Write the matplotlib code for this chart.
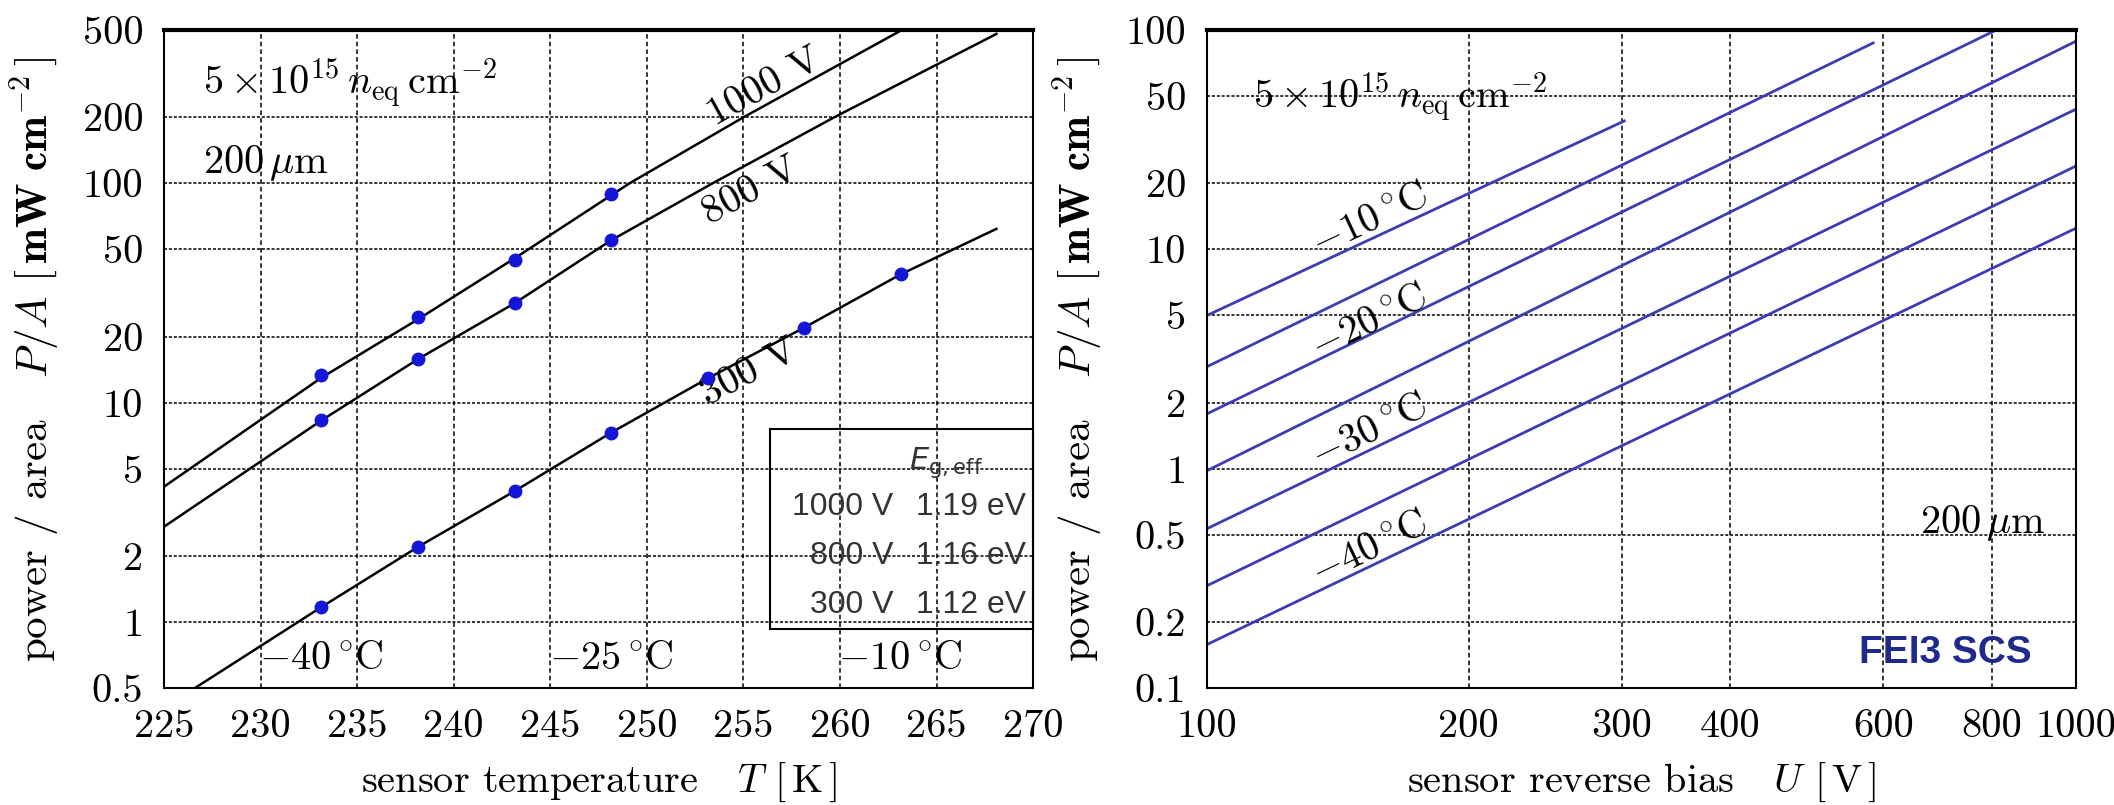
import matplotlib
matplotlib.use("Agg")
import matplotlib.pyplot as plt
import numpy as np
from matplotlib.patches import Rectangle
from matplotlib.ticker import NullLocator

plt.rcParams["font.family"] = "serif"
plt.rcParams["font.serif"] = ["cmr10"]
plt.rcParams["mathtext.fontset"] = "cm"
plt.rcParams["axes.formatter.use_mathtext"] = True

# ---- left panel: power density vs sensor temperature ----
temp_ticks = [225, 230, 235, 240, 245, 250, 255, 260, 265, 270]
pa_ticks_left = [0.5, 1, 2, 5, 10, 20, 50, 100, 200, 500]
pa_labels_left = ["0.5", "1", "2", "5", "10", "20", "50", "100", "200", "500"]

bias_names = ["1000 V", "800 V", "300 V"]
# fit curves at several temperatures
fit_T_1000 = [225.0, 233.15, 238.15, 243.15, 249.1, 255.0, 263.2]
fit_P_1000 = [4.14, 13.0, 24.0, 45.5, 100.0, 200.0, 500.0]
fit_T_800 = [225.0, 233.15, 238.15, 243.15, 248.15, 253.4, 259.7, 268.1]
fit_P_800 = [2.72, 8.3, 15.8, 28.4, 55.0, 100.0, 200.0, 480.0]
fit_T_300 = [226.6, 233.15, 238.15, 243.15, 248.15, 253.15, 258.15, 263.15, 268.1]
fit_P_300 = [0.5, 1.17, 2.2, 3.95, 7.3, 12.9, 22.0, 38.5, 62.0]
fit_label_T = [256.1, 255.4, 255.3]
fit_label_P = [275.0, 92.0, 13.6]

meas_T_1000 = [233.15, 238.15, 243.15, 248.15]
meas_P_1000 = [13.4, 24.5, 44.5, 89.0]
meas_T_800 = [233.15, 238.15, 243.15, 248.15]
meas_P_800 = [8.3, 15.8, 28.4, 55.0]
meas_T_300 = [233.15, 238.15, 243.15, 248.15, 253.15, 258.15, 263.15]
meas_P_300 = [1.17, 2.2, 3.95, 7.3, 12.9, 22.0, 38.5]

celsius_marks = [-40, -25, -10]
eg_bias = ["1000 V", "800 V", "300 V"]
eg_values = ["1.19 eV", "1.16 eV", "1.12 eV"]

# ---- right panel: power density vs reverse bias ----
bias_ticks = [100, 200, 300, 400, 600, 800, 1000]
bias_labels = ["100", "200", "300", "400", "600", "800", "1000"]
pa_ticks_right = [0.1, 0.2, 0.5, 1, 2, 5, 10, 20, 50, 100]
pa_labels_right = ["0.1", "0.2", "0.5", "1", "2", "5", "10", "20", "50", "100"]

curve_temps = [-10, -15, -20, -25, -30, -35, -40]
curve_U = [[100, 302], [100, 584], [100, 809], [100, 1000], [100, 1000], [100, 1000], [100, 1000]]
curve_P = [[5.0, 38.5], [2.92, 87.3], [1.78, 100.0], [0.98, 89.0], [0.533, 43.6], [0.293, 24.0], [0.158, 12.5]]
labelled_temps = [-10, -20, -30, -40]
label_U = [154, 154, 154, 154]
label_P = [13.5, 4.6, 1.46, 0.43]

FS = 29
BLUE_DOT = "#1515d8"
BLUE_LINE = "#3c3cb4"


def line_angle(ax, xs, ys, x_at):
    # local slope of the polyline around x_at, in screen degrees
    i = int(np.clip(np.searchsorted(xs, x_at), 1, len(xs) - 1))
    p = ax.transData.transform([(xs[i - 1], ys[i - 1]), (xs[i], ys[i])])
    return np.degrees(np.arctan2(p[1, 1] - p[0, 1], p[1, 0] - p[0, 0]))


def style_axes(ax):
    ax.xaxis.grid(True, color="k", linestyle=(0, (3, 2)), lw=1.1)
    ax.yaxis.grid(True, color="k", linestyle=(0, (2, 1.2)), lw=1.1)
    ax.set_axisbelow(True)
    ax.tick_params(length=0, labelsize=FS, pad=15)
    for s in ax.spines.values():
        s.set_linewidth(1.5)
    ax.spines["top"].set_linewidth(3)
    ax.xaxis.set_minor_locator(NullLocator())
    ax.yaxis.set_minor_locator(NullLocator())


def set_labels(ax, xlabel, ylabel):
    ax.set_xlabel(xlabel, fontsize=FS)
    ax.set_ylabel(ylabel, fontsize=31)
    ax.xaxis.label.set_va("center")
    ax.yaxis.label.set_va("center")
    ax.xaxis.set_label_coords(0.5, -0.144)
    ax.yaxis.set_label_coords(-0.148, 0.5)


fig = plt.figure(figsize=(21.14, 8.05), dpi=100)
ax1 = fig.add_axes([0.0776, 0.1453, 0.4111, 0.8174])
ax2 = fig.add_axes([0.5710, 0.1453, 0.4111, 0.8174])

# left
ax1.set_yscale("log")
ax1.set_xlim(225, 270)
ax1.set_ylim(0.5, 500)
ax1.set_xticks(temp_ticks, [str(t) for t in temp_ticks])
ax1.set_yticks(pa_ticks_left, pa_labels_left)
style_axes(ax1)

fits = [(fit_T_1000, fit_P_1000), (fit_T_800, fit_P_800), (fit_T_300, fit_P_300)]
for (T, P), name, lt, lp in zip(fits, bias_names, fit_label_T, fit_label_P):
    ax1.plot(T, P, color="k", lw=1.8)
    ang = line_angle(ax1, T, P, lt)
    ax1.text(lt, lp, name, fontsize=FS, rotation=ang, rotation_mode="anchor",
             ha="center", va="center")

for T, P in [(meas_T_1000, meas_P_1000), (meas_T_800, meas_P_800), (meas_T_300, meas_P_300)]:
    ax1.plot(T, P, "o", color=BLUE_DOT, ms=9, zorder=5)

for c in celsius_marks:
    ax1.text(c + 273.15, 0.68, r"$%d\,^{\circ}\mathrm{C}$" % c, fontsize=FS,
             ha="center", va="center")

ax1.text(0.045, 0.919, r"$5\times10^{15}\,n_{\mathrm{eq}}\,\mathrm{cm}^{-2}$",
         transform=ax1.transAxes, fontsize=FS, ha="left", va="center")
ax1.text(0.045, 0.798, r"$200\,\mu\mathrm{m}$", transform=ax1.transAxes,
         fontsize=FS, ha="left", va="center")

# E_g,eff table
ax1.add_patch(Rectangle((0.697, 0.0897), 0.303, 0.304, transform=ax1.transAxes,
                        fill=False, ec="k", lw=1.5, clip_on=False, zorder=4))
ax1.text(0.9, 0.343, r"$E_{\mathrm{g,eff}}$", transform=ax1.transAxes,
         fontsize=22, ha="center", va="center", math_fontfamily="dejavusans",
         color="#333333")
for i, (b, e) in enumerate(zip(eg_bias, eg_values)):
    y = 0.275 - i * 0.0745
    ax1.text(0.839, y, b, transform=ax1.transAxes, fontsize=23, ha="right",
             va="center", family="Liberation Sans", color="#333333")
    ax1.text(0.992, y, e, transform=ax1.transAxes, fontsize=23, ha="right",
             va="center", family="Liberation Sans", color="#333333")

set_labels(ax1, r"sensor temperature   $T$ $[\,\mathrm{K}\,]$",
           r"power / area   $P/A$ $[\,\mathbf{mW\ cm}^{-2}\,]$")

# right
ax2.set_xscale("log")
ax2.set_yscale("log")
ax2.set_xlim(100, 1000)
ax2.set_ylim(0.1, 100)
ax2.set_xticks(bias_ticks, bias_labels)
ax2.set_yticks(pa_ticks_right, pa_labels_right)
style_axes(ax2)

for U, P in zip(curve_U, curve_P):
    ax2.plot(U, P, color=BLUE_LINE, lw=2)

for t, lu, lp in zip(labelled_temps, label_U, label_P):
    i = curve_temps.index(t)
    ang = line_angle(ax2, curve_U[i], curve_P[i], lu)
    ax2.text(lu, lp, r"$%d\,^{\circ}\mathrm{C}$" % t, fontsize=FS, rotation=ang,
             rotation_mode="anchor", ha="center", va="center")

ax2.text(0.053, 0.898, r"$5\times10^{15}\,n_{\mathrm{eq}}\,\mathrm{cm}^{-2}$",
         transform=ax2.transAxes, fontsize=FS, ha="left", va="center")
ax2.text(0.965, 0.251, r"$200\,\mu\mathrm{m}$", transform=ax2.transAxes,
         fontsize=FS, ha="right", va="center")
ax2.text(0.849, 0.053, "FEI3 SCS", transform=ax2.transAxes, fontsize=28,
         family="Liberation Sans", weight="bold", color="#1f2a8c",
         ha="center", va="center")

set_labels(ax2, r"sensor reverse bias   $U$ $[\,\mathrm{V}\,]$",
           r"power / area   $P/A$ $[\,\mathbf{mW\ cm}^{-2}\,]$")

fig.savefig("out.png", dpi=100, facecolor="white")
